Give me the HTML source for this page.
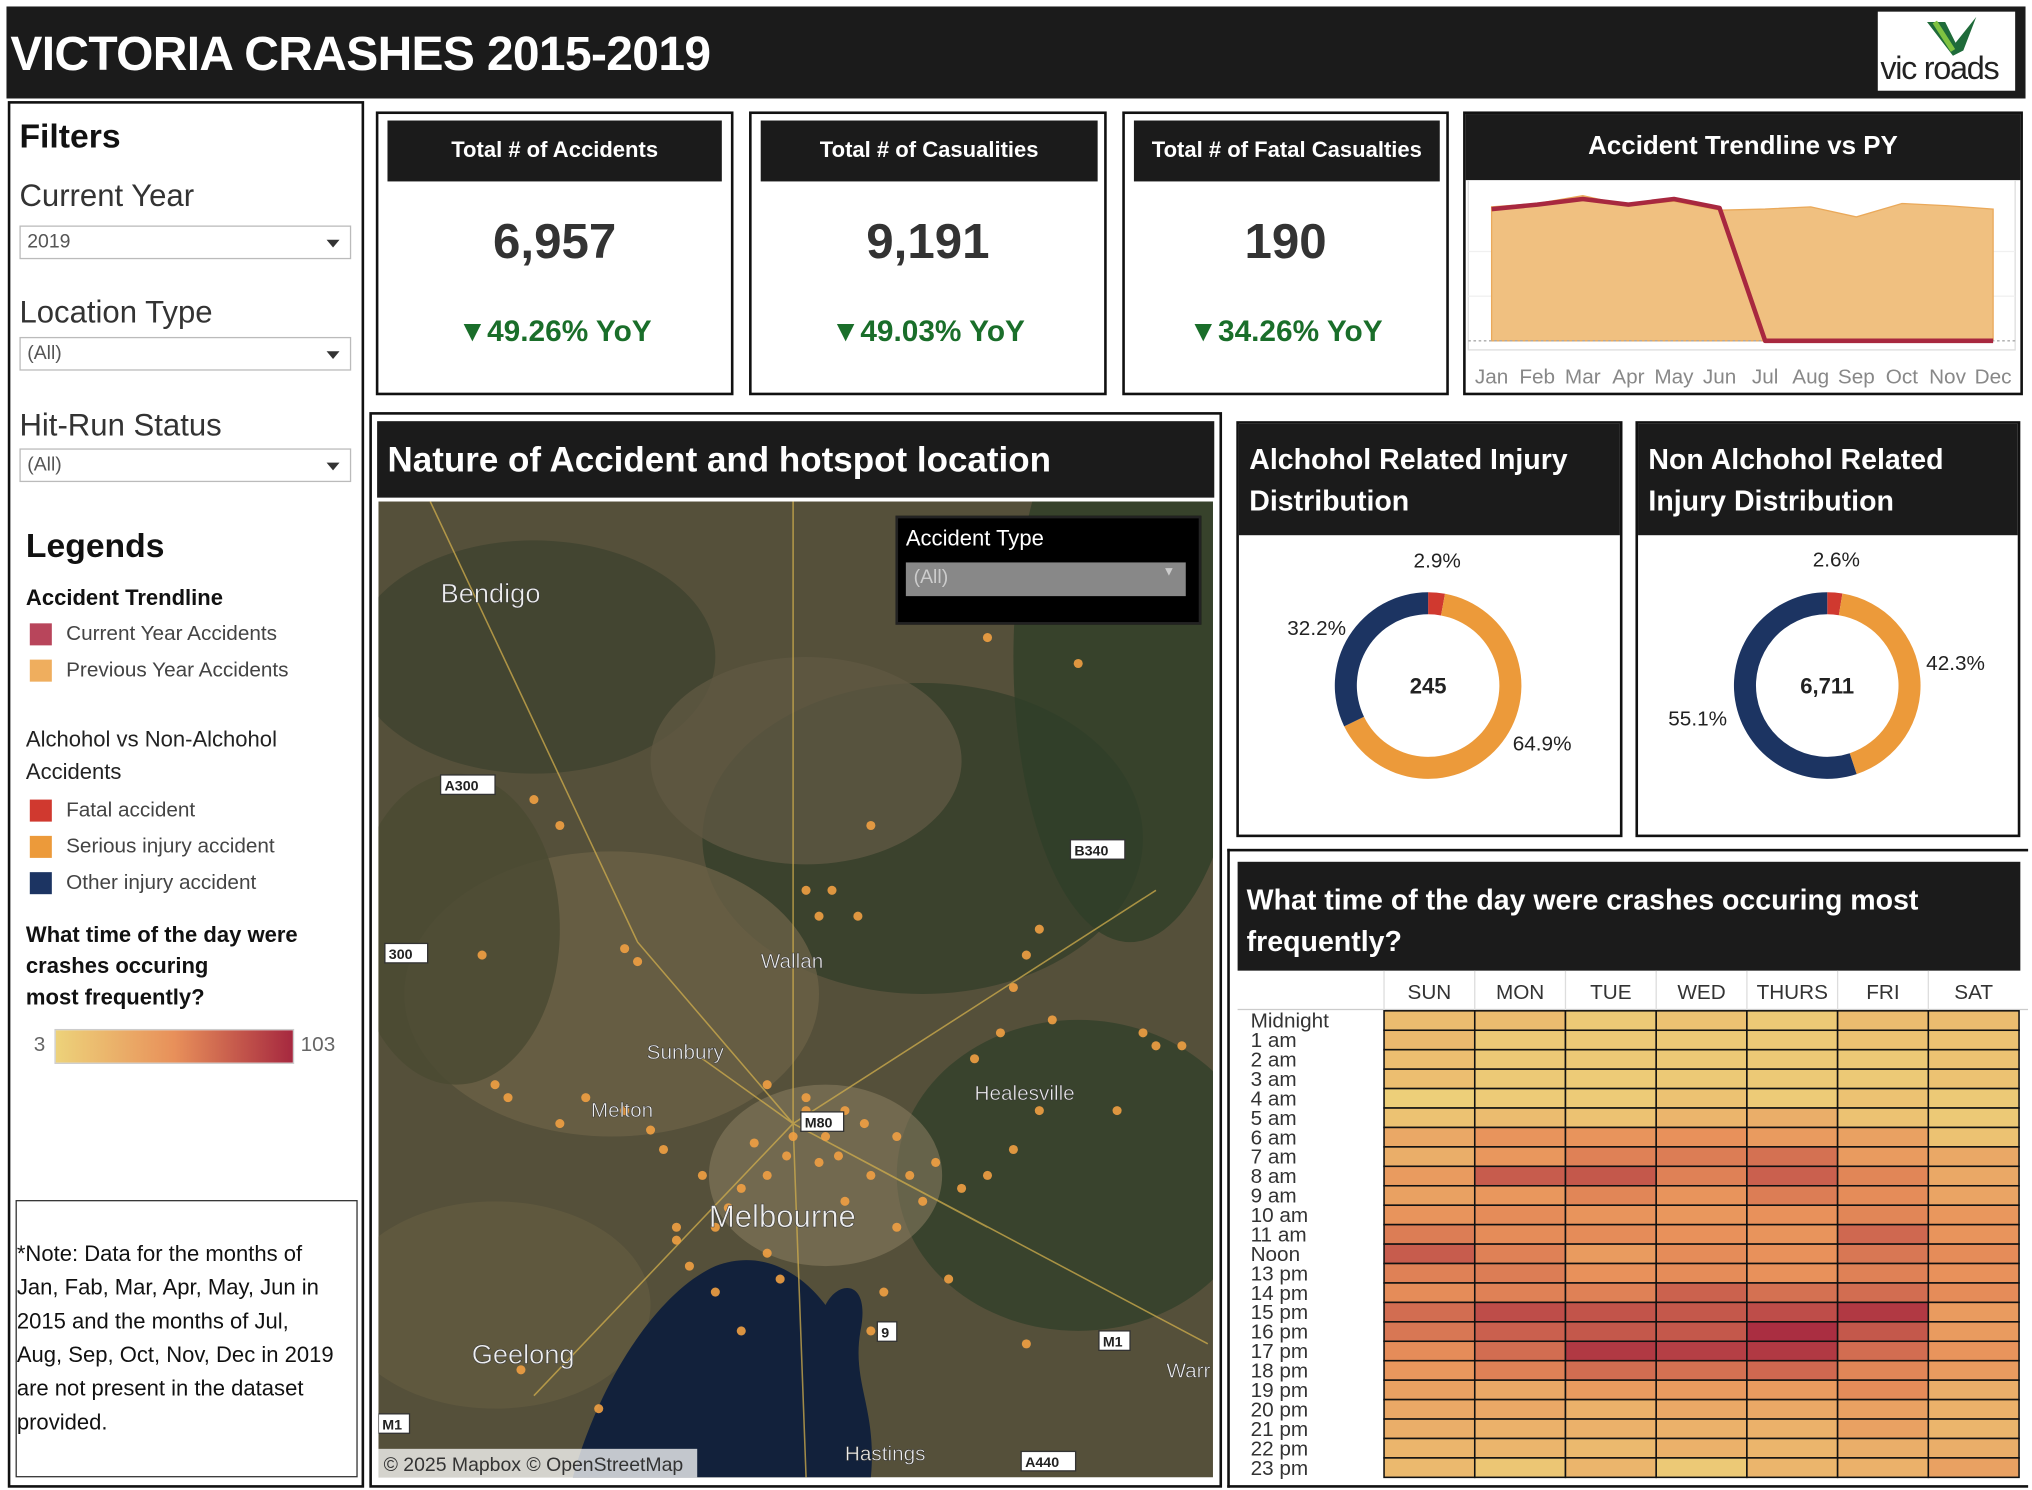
<!DOCTYPE html>
<html><head><meta charset="utf-8">
<style>
html,body{margin:0;padding:0;background:#fff;width:2032px;height:1490px;overflow:hidden}
#root{position:absolute;left:0;top:0;width:1568px;height:1150px;transform:scale(1.29592);transform-origin:0 0;font-family:"Liberation Sans","DejaVu Sans",sans-serif;color:#333}
.abs{position:absolute}
.blk{background:#1b1b1b;color:#fff}
.box{position:absolute;border:2px solid #111;box-sizing:border-box;background:#fff}
.dd{position:absolute;left:14px;width:256px;height:26px;border:1px solid #bbb;box-sizing:border-box;font-size:15px;color:#555;padding:3px 5px}
.dd:after{content:"";position:absolute;right:8px;top:10px;border-left:5px solid transparent;border-right:5px solid transparent;border-top:6px solid #333}
.lbl{font-size:24px;color:#333}
.sw{position:absolute;width:17px;height:17px}
.lg{font-size:16px;color:#444}
.kpi-h{position:absolute;font-weight:bold;font-size:17px;text-align:center;line-height:46px}
.kpi-v{position:absolute;width:100%;text-align:center;font-size:38px;font-weight:bold;color:#333}
.kpi-y{position:absolute;width:100%;text-align:center;font-size:23px;font-weight:bold;color:#1a6e2a}
</style></head><body>
<div id="root">
<div class="abs blk" style="left:5px;top:5px;width:1558px;height:71px">
 <div class="abs" style="left:3px;top:16px;font-size:37px;font-weight:bold;letter-spacing:-0.5px">VICTORIA CRASHES 2015-2019</div>
 <div class="abs" style="left:1444px;top:4px;width:106px;height:61px;background:#fff">
  <svg width="106" height="40" style="position:absolute;left:0;top:0"><path d="M38 8 L52 8 L60 24 L76 4 L66 30 L58 34Z" fill="#1f6b3a"/><path d="M44 8 L58 30" stroke="#7fc241" stroke-width="4"/></svg>
  <div class="abs" style="left:2px;top:30px;font-size:25px;color:#222;letter-spacing:-1px">vic roads</div>
 </div>
</div>
<div class="box" style="left:6px;top:78px;width:275px;height:1070px">
 <div class="abs" style="left:7px;top:10px;font-size:26px;font-weight:bold;color:#111">Filters</div>
 <div class="abs lbl" style="left:7px;top:58px">Current Year</div>
 <div class="dd" style="top:94px;left:7px">2019</div>
 <div class="abs lbl" style="left:7px;top:148px">Location Type</div>
 <div class="dd" style="top:180px;left:7px">(All)</div>
 <div class="abs lbl" style="left:7px;top:235px">Hit-Run Status</div>
 <div class="dd" style="top:266px;left:7px">(All)</div>
 <div class="abs" style="left:12px;top:326px;font-size:26px;font-weight:bold;color:#111">Legends</div>
 <div class="abs" style="left:12px;top:372px;font-size:17px;font-weight:bold;color:#111">Accident Trendline</div>
 <div class="sw" style="left:15px;top:401px;background:#b8455b"></div><div class="abs lg" style="left:43px;top:401px">Current Year Accidents</div>
 <div class="sw" style="left:15px;top:429px;background:#efae5e"></div><div class="abs lg" style="left:43px;top:429px">Previous Year Accidents</div>
 <div class="abs" style="left:12px;top:478px;font-size:17px;color:#222;line-height:25px">Alchohol vs Non-Alchohol<br>Accidents</div>
 <div class="sw" style="left:15px;top:537px;background:#d0392f"></div><div class="abs lg" style="left:43px;top:537px">Fatal accident</div>
 <div class="sw" style="left:15px;top:565px;background:#ec9a3a"></div><div class="abs lg" style="left:43px;top:565px">Serious injury accident</div>
 <div class="sw" style="left:15px;top:593px;background:#1c3462"></div><div class="abs lg" style="left:43px;top:593px">Other injury accident</div>
 <div class="abs" style="left:12px;top:630px;font-size:17px;font-weight:bold;color:#111;line-height:24px">What time of the day were<br>crashes occuring<br>most frequently?</div>
 <div class="abs" style="left:18px;top:718px;font-size:16px;color:#666">3</div>
 <div class="abs" style="left:34px;top:714px;width:183px;height:25px;background:linear-gradient(90deg,#edd27a,#e8905a 50%,#a6283f);border:1px solid #ccc"></div>
 <div class="abs" style="left:224px;top:718px;font-size:16px;color:#666">103</div>
 <div class="abs" style="left:4px;top:846px;width:264px;height:214px;border:1px solid #333;box-sizing:border-box;font-size:17px;line-height:26px;color:#111;padding-top:28px;white-space:nowrap;overflow:hidden">*Note: Data for the months of<br>Jan, Fab, Mar, Apr, May, Jun in<br>2015 and the months of Jul,<br>Aug, Sep, Oct, Nov, Dec in 2019<br>are not present in the dataset<br>provided.</div>
</div>
<div class="box" style="left:290px;top:86px;width:276px;height:219px">
 <div class="kpi-h blk" style="left:7px;top:5px;width:258px;height:47px">Total # of Accidents</div>
 <div class="kpi-v" style="top:78px">6,957</div><div class="kpi-y" style="top:154px">▼49.26% YoY</div></div>
<div class="box" style="left:578px;top:86px;width:276px;height:219px">
 <div class="kpi-h blk" style="left:7px;top:5px;width:260px;height:47px">Total # of Casualities</div>
 <div class="kpi-v" style="top:78px">9,191</div><div class="kpi-y" style="top:154px">▼49.03% YoY</div></div>
<div class="box" style="left:866px;top:86px;width:252px;height:219px">
 <div class="kpi-h blk" style="left:7px;top:5px;width:236px;height:47px">Total # of Fatal Casualties</div>
 <div class="kpi-v" style="top:78px">190</div><div class="kpi-y" style="top:154px">▼34.26% YoY</div></div>
<div class="box" style="left:1129px;top:86px;width:432px;height:219px">
 <div class="abs blk" style="left:0;top:0;width:428px;height:51px;font-size:20px;font-weight:bold;text-align:center;line-height:50px">Accident Trendline vs PY</div>
 <svg id="trend" class="abs" style="left:0;top:51px" width="428" height="164"></svg>
</div>
<div class="box" style="left:285px;top:318px;width:658px;height:830px">
 <div class="abs blk" style="left:4px;top:5px;width:646px;height:59px;font-size:27px;font-weight:bold;line-height:60px;padding-left:8px;box-sizing:border-box">Nature of Accident and hotspot location</div>
 <svg id="map" class="abs" style="left:5px;top:67px" width="644" height="753"></svg>
 <div class="abs" style="left:404px;top:78px;width:232px;height:80px;background:#000;border:2px solid #222">
  <div class="abs" style="left:6px;top:6px;color:#fff;font-size:17px">Accident Type</div>
  <div class="abs" style="left:6px;top:34px;width:216px;height:26px;background:#888;color:#ccc;font-size:15px;padding:3px 6px;box-sizing:border-box">(All)<span style="position:absolute;right:8px;top:2px;font-size:10px">▼</span></div>
 </div>
</div>
<div class="box" style="left:954px;top:325px;width:298px;height:321px">
 <div class="abs blk" style="left:0;top:0;width:294px;height:86px;font-size:22px;font-weight:bold;line-height:32px;padding:12px 8px;box-sizing:border-box">Alchohol Related Injury Distribution</div>
 <svg id="d1" class="abs" style="left:0;top:86px" width="294" height="231"></svg></div>
<div class="box" style="left:1262px;top:325px;width:297px;height:321px">
 <div class="abs blk" style="left:0;top:0;width:293px;height:86px;font-size:22px;font-weight:bold;line-height:32px;padding:12px 8px;box-sizing:border-box">Non Alchohol Related Injury Distribution</div>
 <svg id="d2" class="abs" style="left:0;top:86px" width="293" height="231"></svg></div>
<div class="box" style="left:947px;top:655px;width:618px;height:493px;border-width:2px 0 2px 2px">
 <div class="abs blk" style="left:6px;top:8px;width:604px;height:84px;font-size:22px;font-weight:bold;line-height:32px;padding:14px 7px;box-sizing:border-box">What time of the day were crashes occuring most frequently?</div>
 <svg id="heat" class="abs" style="left:0;top:92px" width="616" height="397"></svg></div>
</div>
<script>
const NS="http://www.w3.org/2000/svg";
function mk(p,t,a){const e=document.createElementNS(NS,t);for(const k in a)e.setAttribute(k,a[k]);p.appendChild(e);return e;}
const months=["Jan","Feb","Mar","Apr","May","Jun","Jul","Aug","Sep","Oct","Nov","Dec"];
const prevYear=[1200,1230,1300,1210,1250,1170,1180,1200,1110,1230,1210,1180];
const currYear=[1180,1220,1270,1220,1270,1190,0,0,0,0,0,0];
(function(){
 const s=document.getElementById('trend');
 const x=i=>20+i*(387/11), y=v=>124-v*(112/1300);
 mk(s,'rect',{x:2,y:0,width:422,height:131,fill:'#fff',stroke:'#ddd'});
 [y(400),y(800)].forEach(g=>mk(s,'line',{x1:2,x2:424,y1:g,y2:g,stroke:'#f0f0f0'}));
 let d='M'+x(0)+','+y(0);prevYear.forEach((v,i)=>d+=' L'+x(i)+','+y(v));d+=' L'+x(11)+','+y(0)+'Z';
 const a=mk(s,'path',{d:d,fill:'#f0c080',stroke:'#eaa95a','stroke-width':1});
 
 mk(s,'line',{x1:2,x2:424,y1:y(0),y2:y(0),stroke:'#aaa','stroke-dasharray':'2,2'});
 const l=mk(s,'polyline',{points:currYear.map((v,i)=>x(i)+','+y(v)).join(' '),fill:'none',stroke:'#a8283f','stroke-width':3.5,'stroke-linejoin':'round'});
 
 months.forEach((m,i)=>{const t=mk(s,'text',{x:x(i),y:157,'text-anchor':'middle','font-size':16,fill:'#888'});t.textContent=m;
  });
})();
const donutLabels=["Fatal","Serious","Other"];
const alcoholPct=[2.9,64.9,32.2];
const nonAlcoholPct=[2.6,42.3,55.1];
const donutTotals=["245","6,711"];
const donutColors=["#d0392f","#ec9a3a","#1c3462"];
function donut(id,vals,total,labelPos){
 const s=document.getElementById(id),cx=146,cy=116,R=72,r=55;let a0=0;
 const sum=vals.reduce((p,c)=>p+c,0);
 vals.forEach((v,i)=>{const a1=a0+v/sum*2*Math.PI;
  const P=(rad,a)=>[cx+rad*Math.sin(a),cy-rad*Math.cos(a)];const lg=(a1-a0)>Math.PI?1:0;
  const [x1,y1]=P(R,a0),[x2,y2]=P(R,a1),[x3,y3]=P(r,a1),[x4,y4]=P(r,a0);
  const p=mk(s,'path',{d:`M${x1},${y1} A${R},${R} 0 ${lg} 1 ${x2},${y2} L${x3},${y3} A${r},${r} 0 ${lg} 0 ${x4},${y4}Z`,fill:donutColors[i]});
  
  const t=mk(s,'text',{x:labelPos[i][0],y:labelPos[i][1],'text-anchor':'middle','font-size':16,fill:'#222'});t.textContent=v+'%';
  
  a0=a1;});
 const t=mk(s,'text',{x:cx,y:cy+6,'text-anchor':'middle','font-size':17,'font-weight':'bold',fill:'#222'});t.textContent=total;
 
}
donut('d1',alcoholPct,donutTotals[0],[[153,25],[234,166],[60,77]]);
donut('d2',nonAlcoholPct,donutTotals[1],[[153,24],[245,104],[46,147]]);
const days=["SUN","MON","TUE","WED","THURS","FRI","SAT"];
const hours=["Midnight","1 am","2 am","3 am","4 am","5 am","6 am","7 am","8 am","9 am","10 am","11 am","Noon","13 pm","14 pm","15 pm","16 pm","17 pm","18 pm","19 pm","20 pm","21 pm","22 pm","23 pm"];
const counts=[
[20,20,10,15,10,20,20],[22,10,10,10,10,15,15],[18,10,10,10,10,10,15],[18,10,8,10,10,10,15],
[5,8,8,15,8,15,10],[15,20,15,25,30,15,10],[35,50,50,52,45,40,15],[30,48,60,62,68,45,35],
[45,78,80,60,76,58,35],[40,48,58,50,62,55,38],[50,55,50,48,52,58,48],[62,55,55,52,50,72,50],
[78,60,45,55,52,65,55],[60,62,52,55,52,60,52],[55,60,60,75,68,70,55],[70,85,82,80,85,95,45],
[65,76,80,80,100,80,45],[55,70,95,92,95,70,50],[48,60,70,68,72,58,45],[40,35,45,45,45,55,30],
[35,35,28,35,35,40,28],[30,28,28,28,28,40,25],[25,25,22,28,25,30,30],[22,12,25,10,25,28,40]];
const colorMin=3,colorMax=103;
function heatColor(v){const t=Math.max(0,Math.min(1,(v-colorMin)/(colorMax-colorMin)));
 const st=[[237,210,122],[232,144,90],[166,40,63]];const k=t<0.5?0:1,u=t<0.5?t*2:(t-0.5)*2;
 const c=st[k].map((a,j)=>Math.round(a+(st[k+1][j]-a)*u));return `rgb(${c})`;}
(function(){
 const s=document.getElementById('heat');const x0=119,cw=70,y0=31,rh=15;
 const xs=i=>x0+i*cw, ys=j=>y0+j*rh;
 mk(s,'line',{x1:6,x2:616,y1:y0-1,y2:y0-1,stroke:'#ccc'});
 days.forEach((d,i)=>{const t=mk(s,'text',{x:xs(i)+cw/2,y:22,'text-anchor':'middle','font-size':16,fill:'#333'});t.textContent=d;
  
  mk(s,'line',{x1:xs(i),x2:xs(i),y1:0,y2:y0,stroke:'#ddd'});});
 hours.forEach((h,j)=>{const t=mk(s,'text',{x:16,y:ys(j)+13,'font-size':16,fill:'#333'});t.textContent=h;
  
  counts[j].forEach((v,i)=>{const r=mk(s,'rect',{x:xs(i),y:ys(j),width:cw,height:rh,fill:heatColor(v),stroke:'#111','stroke-width':1.2});
   });});
})();
(function(){
 const s=document.getElementById('map');
 mk(s,'rect',{x:0,y:0,width:644,height:753,fill:'#55503a'});
 const patches=[[120,120,140,90,'#3f4230'],[420,260,170,120,'#343f2b'],[580,120,90,220,'#2f3f28'],[180,380,160,110,'#6a6046'],[540,520,140,120,'#32402a'],[90,620,120,80,'#625a40'],[330,200,120,80,'#5f5842'],[60,330,80,120,'#4a4a32']];
 patches.forEach(p=>mk(s,'ellipse',{cx:p[0],cy:p[1],rx:p[2],ry:p[3],fill:p[4],opacity:.8}));
 mk(s,'ellipse',{cx:345,cy:520,rx:90,ry:70,fill:'#857a5e',opacity:.6});
 mk(s,'path',{d:'M150,753 C170,680 215,610 260,590 C300,575 330,600 345,620 C355,600 380,600 372,640 C365,680 385,700 380,753Z',fill:'#12213b'});
 mk(s,'path',{d:'M40,0 L200,340 L320,480 M320,0 L320,480 L600,300 M320,480 L640,650 M320,480 L120,690 M320,480 L330,753 M320,480 L250,430 M320,480 L470,560',stroke:'#d0ad4c','stroke-width':1.2,fill:'none',opacity:.75});
 const dots=[[470,105],[540,125],[380,250],[350,300],[370,320],[510,330],[200,355],[190,345],[500,350],[490,375],[300,450],[330,460],[360,470],[320,490],[340,510],[300,520],[280,530],[360,540],[380,520],[400,490],[230,570],[260,560],[240,590],[400,560],[420,540],[440,600],[390,610],[380,640],[470,520],[490,500],[510,470],[100,460],[90,450],[140,480],[220,500],[570,470],[590,410],[620,420],[520,400],[170,700],[110,670],[500,650],[560,650],[300,580],[310,600],[260,610],[280,640],[330,470],[345,490],[315,505],[355,505],[290,495],[375,480],[270,545],[410,520],[430,510],[450,530],[190,470],[160,460],[210,485],[600,420],[480,410],[460,430],[120,230],[140,250],[80,350],[330,300],[340,320],[230,560],[250,520]];
 dots.forEach(d=>mk(s,'circle',{cx:d[0],cy:d[1],r:3.5,fill:'#f1a043',opacity:.9}));
 const labs=[[48,78,'Bendigo',21],[295,360,'Wallan',16],[207,430,'Sunbury',16],[164,475,'Melton',16],[460,462,'Healesville',16],[255,560,'Melbourne',24],[72,665,'Geelong',21],[360,740,'Hastings',16],[608,676,'Warr',16]];
 labs.forEach(l=>{const t=mk(s,'text',{x:l[0],y:l[1],'font-size':l[3],fill:'#eee',stroke:'#333','stroke-width':.4});t.textContent=l[2];});
 [[48,223,'A300'],[534,273,'B340'],[5,353,'300'],[326,483,'M80'],[385,645,'9'],[556,652,'M1'],[0,716,'M1'],[496,745,'A440']].forEach(b=>{
  mk(s,'rect',{x:b[0],y:b[1]-12,width:b[2].length*9+6,height:15,fill:'#fff',stroke:'#333'});
  const t=mk(s,'text',{x:b[0]+3,y:b[1],'font-size':11,'font-weight':'bold',fill:'#222'});t.textContent=b[2];});
 mk(s,'rect',{x:0,y:731,width:246,height:22,fill:'#fff',opacity:.75});
 const c=mk(s,'text',{x:4,y:748,'font-size':15,fill:'#333'});c.textContent='© 2025 Mapbox © OpenStreetMap';
})();
</script>
</body></html>
